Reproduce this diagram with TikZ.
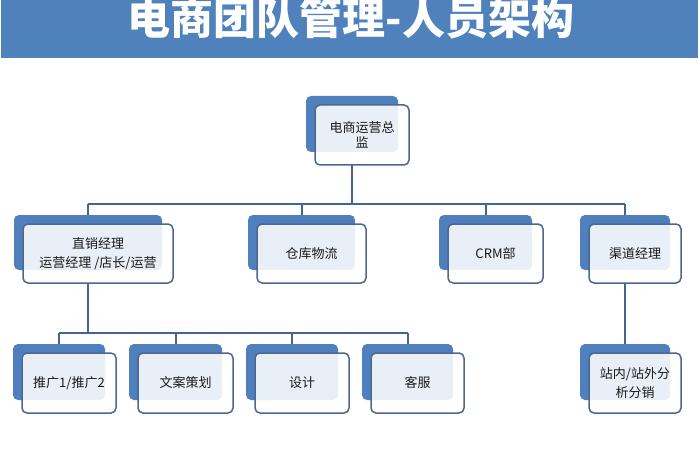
\documentclass[tikz,border=0pt]{standalone}
\usepackage{fontspec}
\setmainfont{Noto Sans CJK SC}
\definecolor{barblue}{HTML}{4F81BD}
\definecolor{backblue}{HTML}{4F7FBD}
\definecolor{edgeblue}{HTML}{4A6892}
\definecolor{linecol}{HTML}{45648F}
\definecolor{txt}{HTML}{1A1A1A}
\tikzset{
  backbox/.style={draw=none, fill=backblue, rounded corners=5pt, inner sep=0pt, outer sep=0pt},
  frontbox/.style={draw=edgeblue, line width=1.5pt, fill=white, fill opacity=0.88, text opacity=1,
    rounded corners=5pt, inner sep=0pt, outer sep=0pt, align=center, text=txt,
    font=\fontsize{13}{19}\selectfont},
  conn/.style={draw=linecol, line width=2pt},
}
\newcommand\obox[6]{%
  \node[backbox, minimum width={#4-#2}, minimum height={#5-#3}] (#1b) at ({(#2+#4)/2},{(#3+#5)/2}) {};
  \node[frontbox, minimum width={#4-#2+2}, minimum height={#5-#3+4}] (#1) at ({(#2+#4)/2+10},{(#3+#5)/2+11}) {#6};
}
\begin{document}
\begin{tikzpicture}[x=1pt,y=-1pt]
\useasboundingbox (0,0) rectangle (700,470);
\fill[white] (0,0) rectangle (700,470);
\fill[barblue] (1,0) rectangle (698,58);
\node[anchor=base, text=white, font=\bfseries\fontsize{43}{43}\selectfont] (title) at (351,35) {电商团队管理-人员架构};

\coordinate (busL) at (88,204);
\coordinate (busR) at (625,204);
\coordinate (bustL) at (59,333);
\coordinate (bustR) at (408,333);

% connectors
\draw[conn] (352,165) -- (352,204);
\draw[conn] (busL) -- (busR);
\draw[conn] (88,204) -- (88,215);
\draw[conn] (301.5,204) -- (301.5,215);
\draw[conn] (485.5,204) -- (485.5,215);
\draw[conn] (625,204) -- (625,215);
\draw[conn] (88,283) -- (88,333);
\draw[conn] (bustL) -- (bustR);
\draw[conn] (59,333) -- (59,344);
\draw[conn] (175.5,333) -- (175.5,344);
\draw[conn] (292,333) -- (292,344);
\draw[conn] (407.5,333) -- (407.5,344);
\draw[conn] (625,283) -- (625,344);

% boxes
\obox{top}{306}{96}{398}{152}{电商运营总\\[-4pt]监}
\obox{d}{14}{215}{162}{270}{直销经理\\运营经理 /店长/运营}
\obox{w}{248}{215}{355}{270}{仓库物流}
\obox{c}{439}{215}{532}{270}{CRM部}
\obox{q}{580}{215}{670}{270}{渠道经理}
\obox{ta}{13}{344}{105}{400}{推广1/推广2}
\obox{tb}{129}{344}{222}{400}{文案策划}
\obox{tc}{246}{344}{338}{400}{设计}
\obox{td}{362}{344}{453}{400}{客服}
\obox{s}{580}{344}{670}{400}{站内/站外分\\析分销}
\end{tikzpicture}
\end{document}
